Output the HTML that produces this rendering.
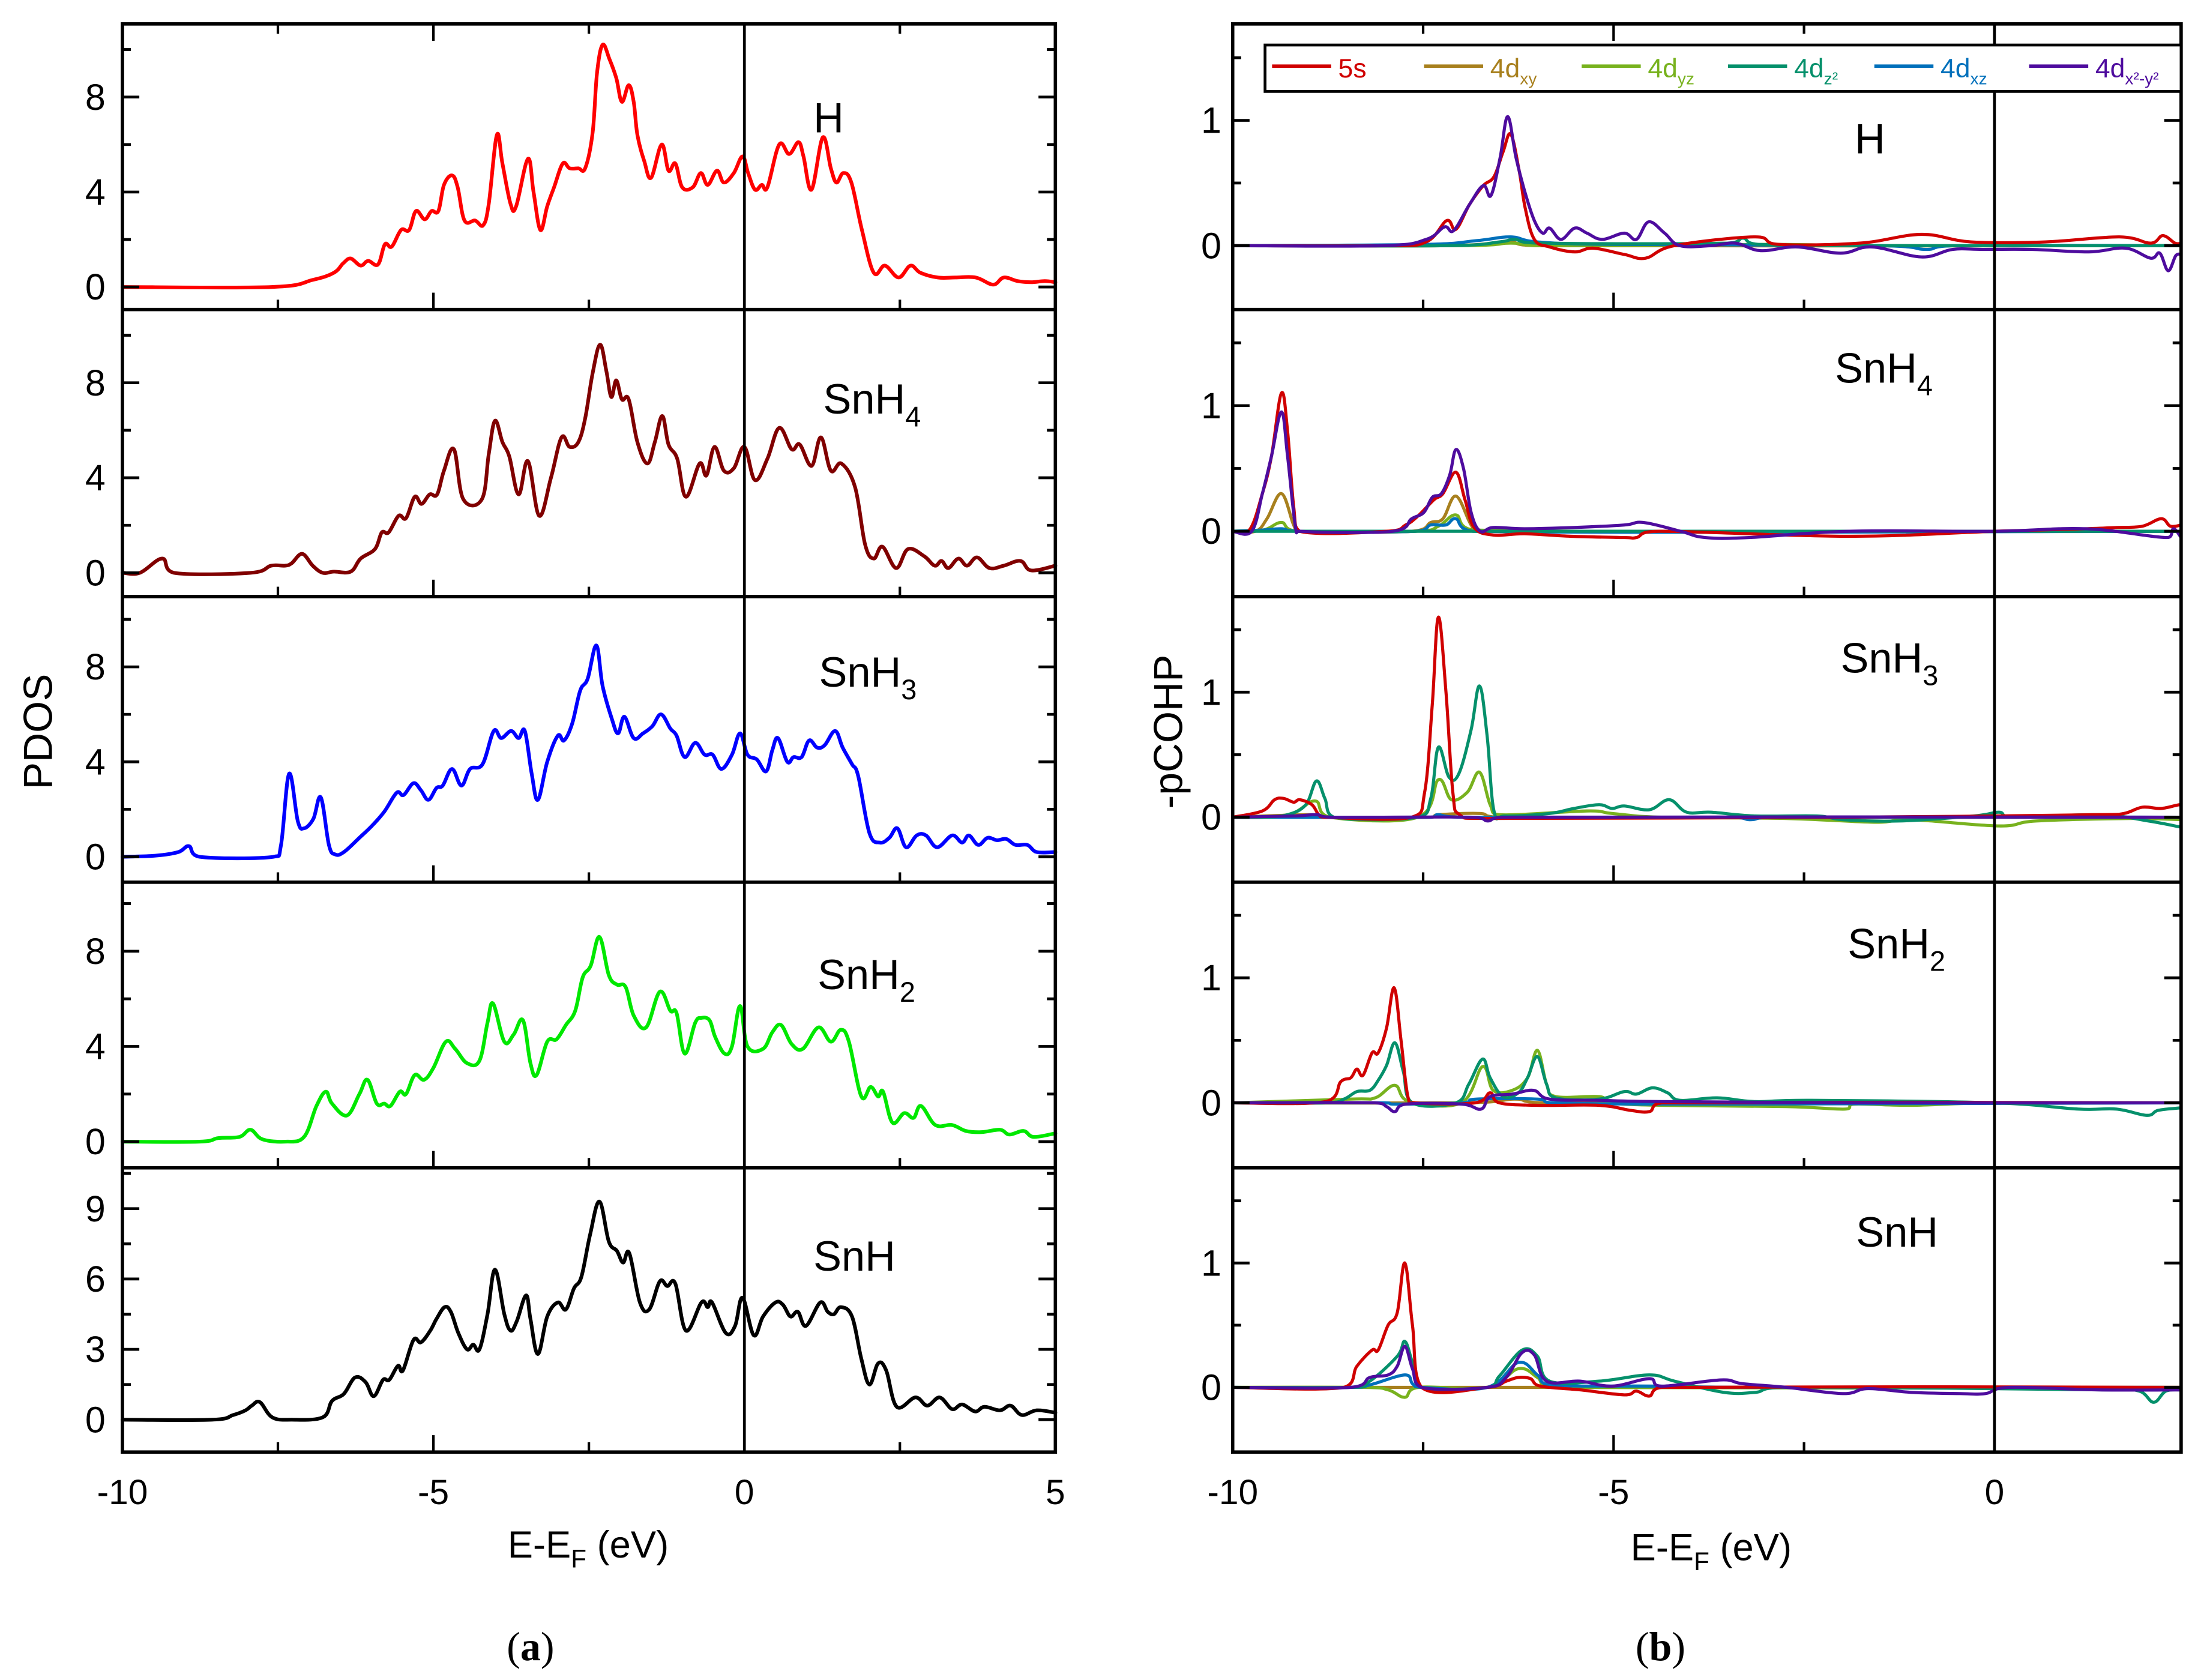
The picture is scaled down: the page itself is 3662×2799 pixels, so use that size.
<!DOCTYPE html>
<html><head><meta charset="utf-8"><style>
html,body{margin:0;padding:0;background:#fff;}
svg{display:block;}
text{font-family:"Liberation Sans",sans-serif;fill:#000;}
</style></head><body>
<svg id="fig" width="3662" height="2799" viewBox="0 0 1562 1194" preserveAspectRatio="none" xmlns="http://www.w3.org/2000/svg">
<rect x="0" y="0" width="1562" height="1194" fill="#fff"/>
<g id="gL"></g>
<g id="gR"></g>
<text x="0" y="0" font-size="29" text-anchor="middle" transform="translate(37,520) rotate(-90)">PDOS</text>
<text x="0" y="0" font-size="29" text-anchor="middle" transform="translate(840,520) rotate(-90)">-pCOHP</text>
<text x="418" y="1107" font-size="27" text-anchor="middle">E-E<tspan font-size="18" dy="7">F</tspan><tspan dy="-7"> (eV)</tspan></text>
<text x="1216" y="1109" font-size="27" text-anchor="middle">E-E<tspan font-size="18" dy="7">F</tspan><tspan dy="-7"> (eV)</tspan></text>
<text x="377" y="1180" font-size="29" text-anchor="middle" style="font-family:'Liberation Serif',serif">(<tspan font-weight="bold">a</tspan>)</text>
<text x="1180" y="1180" font-size="29" text-anchor="middle" style="font-family:'Liberation Serif',serif">(<tspan font-weight="bold">b</tspan>)</text>
</svg>
<script>
// ---------- PDOS data (energy eV, states) ----------
const pdosH = [[-10,0],[-7.6,0],[-6.94,0.3],[-6.6,0.6],[-6.45,1.0],[-6.33,1.2],[-6.17,0.9],[-6.05,1.1],[-5.89,0.95],[-5.78,1.8],[-5.67,1.7],[-5.52,2.4],[-5.39,2.4],[-5.28,3.2],[-5.14,2.85],[-5.03,3.2],[-4.92,3.2],[-4.83,4.3],[-4.7,4.7],[-4.61,4.2],[-4.5,2.8],[-4.33,2.8],[-4.2,2.6],[-4.11,3.5],[-3.98,6.4],[-3.89,5.2],[-3.76,3.5],[-3.67,3.4],[-3.48,5.4],[-3.39,4.0],[-3.28,2.4],[-3.17,3.4],[-3.06,4.2],[-2.92,5.2],[-2.81,5.0],[-2.67,5.0],[-2.56,5.0],[-2.44,6.5],[-2.37,9.0],[-2.28,10.2],[-2.17,9.6],[-2.06,8.8],[-1.97,7.8],[-1.86,8.5],[-1.78,7.8],[-1.72,6.4],[-1.61,5.3],[-1.5,4.6],[-1.33,6.0],[-1.22,4.9],[-1.11,5.2],[-1.0,4.2],[-0.83,4.2],[-0.7,4.8],[-0.59,4.3],[-0.44,4.9],[-0.33,4.4],[-0.17,4.8],[-0.03,5.5],[0.06,4.8],[0.17,4.1],[0.28,4.3],[0.37,4.2],[0.56,6.0],[0.72,5.6],[0.87,6.1],[0.95,5.5],[1.08,4.1],[1.26,6.3],[1.39,5.0],[1.48,4.4],[1.59,4.8],[1.72,4.4],[1.89,2.4],[2.08,0.6],[2.26,0.9],[2.48,0.4],[2.67,0.9],[2.83,0.6],[3.11,0.4],[3.39,0.4],[3.72,0.4],[4.0,0.1],[4.17,0.4],[4.39,0.25],[4.61,0.2],[4.83,0.25],[5,0.2]];
const pdosSnH4 = [[-10,0],[-9.72,0],[-9.36,0.6],[-9.17,0],[-7.94,0],[-7.61,0.3],[-7.39,0.3],[-7.28,0.4],[-7.11,0.8],[-6.94,0.3],[-6.78,0],[-6.6,0.05],[-6.33,0.05],[-6.17,0.6],[-5.94,1.0],[-5.83,1.7],[-5.72,1.7],[-5.56,2.4],[-5.44,2.3],[-5.3,3.2],[-5.19,2.9],[-5.06,3.3],[-4.94,3.3],[-4.83,4.3],[-4.67,5.2],[-4.52,3.1],[-4.22,3.1],[-4.11,5.0],[-4.01,6.4],[-3.89,5.5],[-3.78,4.9],[-3.63,3.3],[-3.48,4.7],[-3.3,2.4],[-3.11,4.0],[-2.94,5.7],[-2.81,5.3],[-2.67,5.5],[-2.56,6.5],[-2.44,8.4],[-2.32,9.6],[-2.22,8.5],[-2.14,7.4],[-2.06,8.1],[-1.97,7.3],[-1.86,7.3],[-1.72,5.5],[-1.56,4.6],[-1.44,5.5],[-1.32,6.6],[-1.22,5.4],[-1.08,4.8],[-0.94,3.2],[-0.72,4.6],[-0.61,4.1],[-0.48,5.3],[-0.33,4.3],[-0.17,4.4],[0,5.3],[0.17,3.9],[0.37,4.8],[0.56,6.1],[0.76,5.2],[0.89,5.4],[1.08,4.5],[1.23,5.7],[1.39,4.3],[1.56,4.6],[1.78,3.6],[1.94,1.2],[2.08,0.6],[2.22,1.1],[2.44,0.2],[2.63,1.0],[2.89,0.7],[3.06,0.3],[3.17,0.5],[3.28,0.2],[3.44,0.6],[3.58,0.3],[3.74,0.65],[3.94,0.2],[4.17,0.3],[4.44,0.5],[4.61,0.1],[5,0.3]];
const pdosSnH3 = [[-10,0],[-9.46,0.05],[-9.1,0.2],[-8.93,0.45],[-8.76,0],[-7.57,0],[-7.45,0.5],[-7.32,3.5],[-7.18,1.5],[-7.08,1.2],[-6.93,1.6],[-6.81,2.5],[-6.68,0.5],[-6.58,0.1],[-6.44,0.2],[-6.19,0.8],[-5.99,1.3],[-5.79,1.9],[-5.59,2.7],[-5.48,2.6],[-5.32,3.1],[-5.2,2.8],[-5.08,2.4],[-4.95,2.9],[-4.85,3.0],[-4.7,3.7],[-4.55,3.0],[-4.41,3.7],[-4.21,3.9],[-4.03,5.3],[-3.91,5.0],[-3.75,5.3],[-3.63,5.0],[-3.53,5.3],[-3.42,3.5],[-3.32,2.4],[-3.17,4.0],[-3.0,5.1],[-2.9,4.9],[-2.77,5.6],[-2.64,7.0],[-2.52,7.5],[-2.38,8.9],[-2.28,7.2],[-2.13,5.8],[-2.03,5.2],[-1.93,5.9],[-1.78,5.0],[-1.63,5.2],[-1.48,5.5],[-1.34,6.0],[-1.19,5.4],[-1.09,5.1],[-0.96,4.2],[-0.79,4.8],[-0.64,4.3],[-0.51,4.3],[-0.37,3.7],[-0.2,4.3],[-0.07,5.2],[0.05,4.3],[0.2,4.1],[0.35,3.6],[0.45,4.5],[0.54,5.0],[0.69,4.0],[0.79,4.2],[0.92,4.2],[1.04,4.9],[1.17,4.6],[1.29,4.7],[1.46,5.3],[1.58,4.6],[1.73,3.9],[1.83,3.4],[2.01,1.0],[2.18,0.6],[2.33,0.8],[2.46,1.2],[2.6,0.4],[2.77,0.9],[2.92,0.9],[3.1,0.4],[3.34,0.9],[3.5,0.6],[3.61,0.9],[3.76,0.5],[3.91,0.8],[4.06,0.7],[4.21,0.75],[4.36,0.5],[4.55,0.5],[4.7,0.2],[5,0.2]];
const pdosSnH2 = [[-10,0],[-8.76,0],[-8.46,0.15],[-8.12,0.2],[-7.94,0.5],[-7.75,0.1],[-7.38,0],[-7.08,0.2],[-6.88,1.5],[-6.73,2.1],[-6.63,1.6],[-6.39,1.1],[-6.19,2.0],[-6.06,2.6],[-5.91,1.6],[-5.79,1.6],[-5.69,1.5],[-5.54,2.1],[-5.44,2.0],[-5.3,2.8],[-5.15,2.6],[-5.0,3.1],[-4.8,4.2],[-4.65,3.9],[-4.46,3.3],[-4.26,3.4],[-4.13,5.0],[-4.04,5.8],[-3.86,4.2],[-3.71,4.5],[-3.56,5.1],[-3.44,3.3],[-3.34,2.8],[-3.17,4.2],[-3.02,4.3],[-2.87,4.9],[-2.72,5.5],[-2.6,6.9],[-2.47,7.4],[-2.33,8.6],[-2.18,7.0],[-2.05,6.6],[-1.91,6.5],[-1.78,5.3],[-1.58,4.8],[-1.36,6.3],[-1.19,5.5],[-1.09,5.4],[-0.96,3.7],[-0.79,5.0],[-0.69,5.2],[-0.56,5.1],[-0.47,4.4],[-0.32,3.7],[-0.2,4.0],[-0.07,5.7],[0.05,4.0],[0.3,3.9],[0.45,4.6],[0.59,4.9],[0.76,4.1],[0.94,3.9],[1.19,4.8],[1.39,4.2],[1.55,4.7],[1.68,4.2],[1.88,1.9],[2.03,2.3],[2.15,1.9],[2.23,2.1],[2.38,0.8],[2.57,1.2],[2.72,1.0],[2.84,1.5],[3.07,0.7],[3.34,0.7],[3.56,0.45],[3.81,0.4],[4.11,0.5],[4.26,0.3],[4.49,0.45],[4.65,0.2],[5,0.35]];
const pdosSnH = [[-10,0],[-8.56,0],[-8.22,0.2],[-8.02,0.4],[-7.92,0.6],[-7.79,0.75],[-7.59,0.1],[-7.28,0],[-6.78,0.1],[-6.63,0.8],[-6.44,1.1],[-6.26,1.8],[-6.09,1.6],[-5.96,1.0],[-5.81,1.7],[-5.71,1.7],[-5.57,2.3],[-5.49,2.1],[-5.32,3.4],[-5.2,3.3],[-5.05,3.8],[-4.95,4.3],[-4.82,4.8],[-4.72,4.6],[-4.6,3.7],[-4.46,3.0],[-4.36,3.2],[-4.26,3.0],[-4.13,4.5],[-4.01,6.4],[-3.86,4.5],[-3.76,3.8],[-3.66,4.2],[-3.51,5.3],[-3.44,4.3],[-3.32,2.8],[-3.17,4.4],[-3.0,5.0],[-2.87,4.7],[-2.74,5.6],[-2.62,6.1],[-2.48,7.9],[-2.33,9.3],[-2.18,7.6],[-2.05,7.2],[-1.95,6.7],[-1.85,7.1],[-1.68,5.0],[-1.53,4.7],[-1.36,5.9],[-1.24,5.7],[-1.11,5.8],[-0.94,3.8],[-0.69,5.0],[-0.59,4.8],[-0.52,5.0],[-0.3,3.7],[-0.15,4.0],[-0.03,5.2],[0.15,3.6],[0.3,4.4],[0.5,5.0],[0.62,4.9],[0.74,4.4],[0.86,4.6],[0.99,4.0],[1.22,5.0],[1.34,4.6],[1.44,4.5],[1.55,4.8],[1.73,4.4],[1.88,2.6],[2.01,1.5],[2.15,2.4],[2.28,2.1],[2.45,0.55],[2.75,0.95],[2.94,0.6],[3.14,0.95],[3.34,0.45],[3.5,0.65],[3.71,0.35],[3.86,0.55],[4.11,0.4],[4.28,0.6],[4.46,0.2],[4.7,0.4],[5,0.3]];
const pdosNames = ["H","SnH4","SnH3","SnH2","SnH"];
const pdosTicksA = [0,4,8];
const pdosTicksB = [0,3,6,9];
const xTicksL = [-10,-5,0,5];
const xTicksR = [-10,-5,0];

// ---------- pCOHP data (energy eV, -pCOHP) ----------
const H_5s = [[-10,0],[-8.0,0],[-7.46,0.03],[-7.19,0.2],[-7.07,0.13],[-6.89,0.33],[-6.71,0.48],[-6.57,0.55],[-6.45,0.75],[-6.35,0.89],[-6.24,0.6],[-6.16,0.3],[-6.04,0.05],[-5.84,-0.01],[-5.51,-0.05],[-5.27,-0.02],[-4.86,-0.07],[-4.58,-0.1],[-4.2,0],[-3.15,0.07],[-2.83,0.01],[-1.77,0.02],[-0.96,0.09],[-0.31,0.03],[0.67,0.03],[1.64,0.07],[2.05,0.02],[2.21,0.08],[2.37,0.02],[2.5,0.02]];
const H_x2y2 = [[-10,0],[-8.03,0],[-7.46,0.05],[-7.22,0.15],[-7.1,0.12],[-6.89,0.33],[-6.71,0.48],[-6.61,0.4],[-6.49,0.7],[-6.39,1.03],[-6.28,0.7],[-6.16,0.42],[-6.04,0.2],[-5.93,0.1],[-5.84,0.14],[-5.69,0.05],[-5.51,0.14],[-5.35,0.1],[-5.15,0.05],[-4.86,0.1],[-4.7,0.05],[-4.54,0.19],[-4.33,0.1],[-4.13,0],[-3.72,0],[-3.4,0.02],[-3.07,-0.04],[-2.59,-0.01],[-2.02,-0.06],[-1.61,-0.01],[-0.96,-0.09],[-0.55,-0.03],[-0.15,-0.03],[0.5,-0.03],[1.24,-0.05],[1.72,-0.02],[2.05,-0.1],[2.17,-0.06],[2.28,-0.2],[2.38,-0.08],[2.5,-0.07]];
const H_xy = [[-10,0],[-7.2,0],[-6.4,0.03],[-6.0,0],[2.5,0]];
const H_yz = [[-10,0],[-7.0,0],[-6.35,0.02],[-5.8,0],[-3.0,0.01],[-1.5,0],[2.5,0]];
const H_z2 = [[-10,0],[-7.2,0],[-6.5,0.03],[-6.3,0.05],[-6.0,0.02],[-3.5,0.02],[-3.3,0.06],[-3.1,0.01],[-1.0,0],[2.5,0]];
const H_xz = [[-10,0],[-7.5,0.01],[-6.8,0.04],[-6.35,0.07],[-6.0,0.03],[-5.0,0.01],[-1.5,0],[-0.9,-0.03],[-0.5,0],[2.5,0]];

const S4_5s = [[-10,0],[-9.78,0.01],[-9.61,0.3],[-9.49,0.6],[-9.36,1.1],[-9.28,0.8],[-9.2,0.2],[-9.12,0],[-7.98,0],[-7.73,0.05],[-7.57,0.12],[-7.36,0.25],[-7.24,0.3],[-7.07,0.47],[-6.95,0.25],[-6.83,0.03],[-6.58,-0.03],[-6.17,-0.02],[-5.56,-0.04],[-4.86,-0.05],[-4.7,-0.05],[-4.4,0],[-1.91,-0.04],[0,0],[1.2,0.02],[1.61,0.03],[1.94,0.04],[2.19,0.1],[2.31,0.04],[2.5,0.05]];
const S4_x2y2 = [[-10,0],[-9.75,0],[-9.61,0.3],[-9.49,0.6],[-9.36,0.95],[-9.28,0.6],[-9.18,0.05],[-9.12,0],[-7.9,0],[-7.65,0.1],[-7.49,0.15],[-7.38,0.27],[-7.26,0.3],[-7.15,0.45],[-7.07,0.65],[-6.97,0.5],[-6.87,0.15],[-6.75,0],[-6.58,0.03],[-6.17,0.02],[-5.52,0.03],[-4.86,0.05],[-4.61,0.07],[-4.12,0],[-3.8,-0.05],[-3.22,-0.05],[-1.9,0],[0,0],[1.2,0.02],[2.27,-0.05],[2.35,0.02],[2.5,-0.05]];
const S4_xy = [[-10,0],[-9.7,0],[-9.55,0.1],[-9.36,0.3],[-9.2,0.05],[-9.12,0],[-7.65,0],[-7.4,0.07],[-7.24,0.1],[-7.07,0.28],[-6.87,0.05],[-6.75,0],[2.5,0]];
const S4_yz = [[-10,0],[-9.6,0.01],[-9.36,0.07],[-9.15,0],[-7.6,0],[-7.3,0.04],[-7.07,0.13],[-6.85,0.01],[2.5,0]];
const S4_z2 = [[-10,0],[2.5,0]];
const S4_xz = [[-10,0],[-9.6,0.01],[-9.36,0.02],[-9.1,0],[-7.6,0],[-7.4,0.05],[-7.2,0.05],[-7.07,0.1],[-6.85,0],[2.5,0]];

const S3_5s = [[-10,0],[-9.61,0.05],[-9.45,0.14],[-9.33,0.15],[-9.2,0.12],[-9.12,0.14],[-8.96,0.1],[-8.87,0.02],[-8.78,0],[-7.65,0],[-7.48,0.2],[-7.38,0.9],[-7.3,1.6],[-7.2,1.0],[-7.11,0.2],[-7.02,0.02],[-6.66,-0.01],[-2.0,0],[0,0.01],[1.37,0.02],[1.7,0.03],[1.94,0.08],[2.19,0.07],[2.43,0.1],[2.5,0.08]];
const S3_z2 = [[-10,0],[-9.6,0],[-9.28,0.02],[-9.04,0.1],[-8.9,0.29],[-8.79,0.15],[-8.67,0],[-7.57,0],[-7.4,0.15],[-7.3,0.56],[-7.16,0.32],[-7.03,0.35],[-6.87,0.7],[-6.76,1.05],[-6.66,0.65],[-6.57,0.05],[-6.42,0.01],[-5.84,0.03],[-5.52,0.07],[-5.19,0.1],[-5.02,0.07],[-4.86,0.09],[-4.53,0.06],[-4.27,0.14],[-4.04,0.04],[-3.72,0.04],[-3.14,0.01],[-2.33,0.01],[-1.99,-0.02],[-1.25,-0.03],[-0.27,0.01],[0.06,0.04],[0.22,0],[1.37,0.02],[2.02,-0.03],[2.5,-0.08]];
const S3_yz = [[-10,0],[-9.28,0.02],[-8.92,0.13],[-8.72,0],[-7.57,0],[-7.3,0.3],[-7.13,0.14],[-6.92,0.2],[-6.76,0.36],[-6.62,0.1],[-6.5,0.02],[-5.35,0.05],[-5.02,0.03],[-4.37,0],[-2.73,-0.01],[-1.58,-0.04],[-1.09,-0.02],[0.06,-0.07],[0.55,-0.03],[1.78,-0.01],[2.5,-0.02]];
const S3_xy = [[-10,0],[-9.0,0.02],[-8.8,0],[-7.4,0],[-7.3,0.02],[-6.76,0.03],[-6.5,0],[2.5,0]];
const S3_xz = [[-10,0],[-7.4,0],[-7.3,0.02],[-7.0,0],[-3.5,0],[-3.2,-0.02],[-2.9,0],[2.5,0]];
const S3_x2y2 = [[-10,0],[-9.2,0.01],[-8.9,0.02],[-8.7,0],[-6.85,0],[-6.65,-0.03],[-6.45,0],[2.5,0]];

const S2_5s = [[-10,0],[-8.78,0.01],[-8.58,0.17],[-8.45,0.2],[-8.37,0.27],[-8.29,0.22],[-8.17,0.4],[-8.09,0.4],[-7.98,0.6],[-7.88,0.92],[-7.79,0.5],[-7.7,0.05],[-7.6,0],[-6.82,0],[-6.62,0.08],[-6.5,0],[-6.0,-0.02],[-5.19,-0.02],[-4.78,-0.06],[-4.53,-0.07],[-4.37,0],[2.5,0]];
const S2_z2 = [[-10,0],[-8.78,0],[-8.54,0.03],[-8.37,0.09],[-8.2,0.1],[-8.09,0.18],[-7.98,0.3],[-7.87,0.48],[-7.76,0.25],[-7.64,0],[-7.07,0],[-6.9,0.15],[-6.72,0.35],[-6.62,0.2],[-6.45,0.05],[-6.25,0.08],[-6.13,0.2],[-6.0,0.37],[-5.88,0.15],[-5.76,0.04],[-5.19,0.03],[-4.86,0.09],[-4.7,0.07],[-4.49,0.12],[-4.29,0.08],[-4.13,0.02],[-3.64,0.04],[-3.14,0.01],[-2.4,0.02],[0,0],[1.1,-0.05],[1.6,-0.05],[2.0,-0.1],[2.15,-0.06],[2.5,-0.04]];
const S2_yz = [[-10,0],[-8.45,0.03],[-8.13,0.04],[-7.87,0.14],[-7.68,0.01],[-7.0,0],[-6.72,0.29],[-6.58,0.1],[-6.33,0.1],[-6.13,0.2],[-6.0,0.42],[-5.88,0.15],[-5.76,0.05],[-5.19,0.05],[-5.02,0],[-4.37,-0.02],[-2.73,-0.03],[-1.96,-0.05],[-1.84,-0.01],[-1.09,-0.02],[0,0],[2.5,0]];
const S2_xy = [[-10,0],[-7.0,0],[-6.3,0.03],[-5.9,0],[2.5,0]];
const S2_xz = [[-10,0],[-8.0,0],[-7.87,-0.01],[-7.0,0],[-6.8,0.03],[-6.0,0.03],[-5.8,0],[-3.6,-0.01],[2.5,0]];
const S2_x2y2 = [[-10,0],[-8.13,0],[-7.98,-0.03],[-7.87,-0.07],[-7.72,-0.01],[-7.0,-0.01],[-6.74,-0.05],[-6.62,0.05],[-6.33,0.07],[-6.05,0.1],[-5.84,0.03],[-5.19,0.02],[-4.37,0.01],[-1.91,0],[2.5,0]];

const S1_5s = [[-10,0],[-8.54,0],[-8.37,0.17],[-8.17,0.3],[-8.09,0.3],[-7.96,0.5],[-7.84,0.6],[-7.74,1.0],[-7.64,0.5],[-7.52,0],[-6.66,0],[-6.41,0.05],[-6.25,0.08],[-6.09,0.07],[-5.96,0.01],[-5.44,-0.02],[-4.86,-0.06],[-4.7,-0.03],[-4.53,-0.07],[-4.37,0],[2.5,0]];
const S1_z2 = [[-10,0],[-8.45,0],[-8.2,0.05],[-7.84,0.25],[-7.74,0.37],[-7.64,0.2],[-7.52,0],[-6.66,0],[-6.5,0.09],[-6.2,0.3],[-6.0,0.25],[-5.84,0.05],[-5.19,0.05],[-4.53,0.1],[-4.2,0.05],[-3.55,-0.04],[-3.14,-0.04],[-2.73,0],[1.5,-0.02],[1.9,-0.03],[2.09,-0.12],[2.25,-0.03],[2.5,-0.02]];
const S1_x2y2 = [[-10,0],[-8.45,0],[-8.2,0.08],[-7.96,0.1],[-7.84,0.17],[-7.74,0.33],[-7.64,0.15],[-7.52,0],[-6.66,0],[-6.41,0.08],[-6.2,0.28],[-6.04,0.26],[-5.88,0.05],[-5.44,0.05],[-5.02,0.01],[-4.53,0.07],[-4.37,0.01],[-3.59,0.06],[-3.31,0.03],[-2.73,0],[-1.99,-0.05],[-1.66,-0.01],[-1.09,-0.04],[-0.45,-0.05],[-0.12,-0.05],[0.2,0],[1.37,-0.02],[2.5,-0.02]];
const S1_xz = [[-10,0],[-8.45,0],[-8.2,0.02],[-7.74,0.1],[-7.64,0.03],[-7.52,0],[-6.66,0],[-6.25,0.2],[-6.0,0.1],[-5.84,0.02],[-4.37,0.01],[-3.0,0],[2.5,0]];
const S1_yz = [[-10,0],[-8.3,0],[-7.96,-0.02],[-7.74,-0.08],[-7.56,0],[-6.66,0],[-6.25,0.15],[-6.0,0.08],[-5.84,0],[2.5,0]];
const S1_xy = [[-10,0],[2.5,0]];

const cohpNames = ["H","SnH4","SnH3","SnH2","SnH"];
const orbitalNames = ["5s","4dxy","4dyz","4dz2","4dxz","4dx2-y2"];
const cohpTicks = [0,1];

// ---------- layout ----------
const NS = "http://www.w3.org/2000/svg";
const panelTop = [17,220,424,627,830];
const panelBot = [220,424,627,830,1032];
const L = {x0:87, x1:750, emin:-10, emax:5};
const R = {x0:876, x1:1550, emin:-10, emax:2.45};
const pdosRange = [[-0.95,11.08],[-1.0,11.08],[-1.07,10.96],[-1.1,10.9],[-1.38,10.74]];
const cohpRange = [[-0.51,1.77],[-0.52,1.765],[-0.52,1.765],[-0.52,1.765],[-0.52,1.765]];
const pdosColors = ["#ff0000","#800000","#0000ff","#00e800","#000000"];
const orbColors = ["#d00000","#a8801e","#78b21e","#05906b","#0070bb","#4e0c9e"];

function xs(ax,e){return ax.x0+(e-ax.emin)/(ax.emax-ax.emin)*(ax.x1-ax.x0);}
function ys(i,rng,v){const r=rng[i];return panelBot[i]-(v-r[0])/(r[1]-r[0])*(panelBot[i]-panelTop[i]);}
function mk(tag,attrs,parent){const el=document.createElementNS(NS,tag);for(const k in attrs)el.setAttribute(k,attrs[k]);parent.appendChild(el);return el;}

const gL=document.getElementById('gL'), gR=document.getElementById('gR');

function smoothPath(P){
  if(P.length<3)return 'M'+P.map(p=>p[0].toFixed(2)+','+p[1].toFixed(2)).join(' L');
  let d='M'+P[0][0].toFixed(2)+','+P[0][1].toFixed(2);
  for(let k=0;k<P.length-1;k++){
    const p0=P[Math.max(k-1,0)],p1=P[k],p2=P[k+1],p3=P[Math.min(k+2,P.length-1)];
    const t=0.18;
    let c1x=p1[0]+(p2[0]-p0[0])*t,c1y=p1[1]+(p2[1]-p0[1])*t;
    let c2x=p2[0]-(p3[0]-p1[0])*t,c2y=p2[1]-(p3[1]-p1[1])*t;
    c1x=Math.min(Math.max(c1x,p1[0]),p2[0]);c2x=Math.min(Math.max(c2x,p1[0]),p2[0]);
    d+=' C'+c1x.toFixed(2)+','+c1y.toFixed(2)+' '+c2x.toFixed(2)+','+c2y.toFixed(2)+' '+p2[0].toFixed(2)+','+p2[1].toFixed(2);
  }
  return d;
}
function drawLine(parent,ax,i,rng,data,color,w){
  const P=data.map(p=>[xs(ax,Math.min(p[0],ax.emax)),ys(i,rng,p[1])]);
  return mk('path',{d:smoothPath(P),fill:'none',stroke:color,'stroke-width':w,'stroke-linejoin':'round','stroke-linecap':'round'},parent);
}

function frame(parent,ax,i,rng,major,minor,labelX){
  const top=panelTop[i],bot=panelBot[i];
  const xt=[];for(let e=Math.ceil(ax.emin/2.5)*2.5;e<=ax.emax+1e-6;e+=2.5)xt.push(e);
  xt.forEach(e=>{const X=xs(ax,e);const isMaj=Math.abs(e%5)<1e-6;
    const t=mk('line',{x1:X,x2:X,y1:bot,y2:bot-(isMaj?12:7),stroke:'#000','stroke-width':1.8},parent);
    
    
    if(i===0){mk('line',{x1:X,x2:X,y1:top,y2:top+(isMaj?12:7),stroke:'#000','stroke-width':1.8},parent);}
  });
  major.forEach(v=>{const Y=ys(i,rng,v);
    mk('line',{x1:ax.x0,x2:ax.x0+12,y1:Y,y2:Y,stroke:'#000','stroke-width':2},parent);
    mk('line',{x1:ax.x1,x2:ax.x1-12,y1:Y,y2:Y,stroke:'#000','stroke-width':2},parent);
    const t=mk('text',{x:labelX,y:Y+9,'font-size':26,'text-anchor':'end'},parent);
    t.textContent=String(v);
    
    
  });
  minor.forEach(v=>{const Y=ys(i,rng,v); if(Y<top+2||Y>bot-2)return;
    mk('line',{x1:ax.x0,x2:ax.x0+6,y1:Y,y2:Y,stroke:'#000','stroke-width':2},parent);
    mk('line',{x1:ax.x1,x2:ax.x1-6,y1:Y,y2:Y,stroke:'#000','stroke-width':2},parent);
  });
}

// ---- left chart ----
const pdosData=[pdosH,pdosSnH4,pdosSnH3,pdosSnH2,pdosSnH];
for(let i=0;i<5;i++){
  const g=mk('g',{},gL);
  
  
  const maj = i<4?pdosTicksA:pdosTicksB;
  const step = maj[1]-maj[0];
  const minor = maj.map(v=>v+step/2).concat([maj[maj.length-1]+step/2]);
  const pl=drawLine(g,L,i,pdosRange,pdosData[i],pdosColors[i],2.6);
  
  
  frame(g,L,i,pdosRange,maj,minor,75);
}
// ---- right chart ----
const cohpData=[
 [H_5s,H_xy,H_yz,H_z2,H_xz,H_x2y2],
 [S4_5s,S4_xy,S4_yz,S4_z2,S4_xz,S4_x2y2],
 [S3_5s,S3_xy,S3_yz,S3_z2,S3_xz,S3_x2y2],
 [S2_5s,S2_xy,S2_yz,S2_z2,S2_xz,S2_x2y2],
 [S1_5s,S1_xy,S1_yz,S1_z2,S1_xz,S1_x2y2]];
const drawOrder=[1,2,4,3,0,5];
for(let i=0;i<5;i++){
  const g=mk('g',{},gR);
  
  
  drawOrder.forEach(k=>{
    const pl=drawLine(g,R,i,cohpRange,cohpData[i][k],orbColors[k],2.2);
    
    
  });
  frame(g,R,i,cohpRange,cohpTicks,[0.5,1.5],868);
}

// frames, separators, zero lines
[[L,gL],[R,gR]].forEach(([ax,g])=>{
  const r=mk('rect',{x:ax.x0,y:panelTop[0],width:ax.x1-ax.x0,height:panelBot[4]-panelTop[0],fill:'none',stroke:'#000','stroke-width':2.4},g);
  
  
  for(let i=1;i<5;i++){
    const s=mk('line',{x1:ax.x0,x2:ax.x1,y1:panelTop[i],y2:panelTop[i],stroke:'#000','stroke-width':2.4},g);
    
    
  }
  const X0=xs(ax,0);
  const z=mk('line',{x1:X0,x2:X0,y1:panelTop[0],y2:panelBot[4],stroke:'#000','stroke-width':2},g);
  
  
});
xTicksL.forEach(e=>{const t=mk('text',{x:xs(L,e),y:1069,'font-size':25,'text-anchor':'middle'},gL);t.textContent=String(e);
  
  });
xTicksR.forEach(e=>{const t=mk('text',{x:xs(R,e),y:1069,'font-size':25,'text-anchor':'middle'},gR);t.textContent=String(e);
  
  });

function label(parent,x,y,base,sub,name){
  const t=mk('text',{x:x,y:y,'font-size':30},parent);
  
  
  t.appendChild(document.createTextNode(base));
  if(sub){const s=mk('tspan',{'font-size':20,dy:9},t);s.textContent=sub;}
}
label(gL,578,94,'H','','pdos-label-h');
label(gL,585,294,'SnH','4','pdos-label-snh4');
label(gL,582,488,'SnH','3','pdos-label-snh3');
label(gL,581,703,'SnH','2','pdos-label-snh2');
label(gL,578,903,'SnH','','pdos-label-snh');
label(gR,1318,109,'H','','pcohp-label-h');
label(gR,1304,272,'SnH','4','pcohp-label-snh4');
label(gR,1308,478,'SnH','3','pcohp-label-snh3');
label(gR,1313,681,'SnH','2','pcohp-label-snh2');
label(gR,1319,886,'SnH','','pcohp-label-snh');

// legend
const lg=mk('g',{},gR);


mk('rect',{x:899,y:32,width:651,height:33,fill:'#fff',stroke:'#000','stroke-width':2},lg);
const legX=[904,1012,1124,1228,1332,1442];
const legMain=['5s','4d','4d','4d','4d','4d'];
const legSub=['','xy','yz','z²','xz','x²-y²'];
for(let k=0;k<6;k++){
  const e=mk('g',{},lg);
  
  
  mk('line',{x1:legX[k],x2:legX[k]+42,y1:47,y2:47,stroke:orbColors[k],'stroke-width':2.4},e);
  const t=mk('text',{x:legX[k]+47,y:55,'font-size':19},e);
  t.style.fill=orbColors[k];
  t.appendChild(document.createTextNode(legMain[k]));
  if(legSub[k]){const s=mk('tspan',{'font-size':12,dy:5},t);s.textContent=legSub[k];}
}
</script>
</body></html>
